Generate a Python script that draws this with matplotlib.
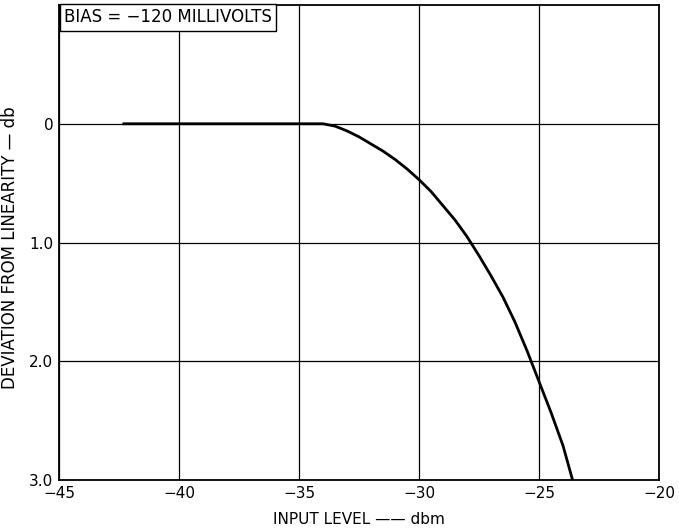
import matplotlib.pyplot as plt

# input level (dbm) vs deviation from linearity (db)
input_dbm = [-42.3, -34.0, -33.5, -33.0, -32.5, -32.0, -31.5, -31.0, -30.5, -30.0,
             -29.5, -29.0, -28.5, -28.0, -27.5, -27.0, -26.5, -26.0, -25.5, -25.0,
             -24.5, -24.0, -23.6]
deviation_db = [0.0, 0.0, 0.02, 0.06, 0.11, 0.17, 0.23, 0.30, 0.38, 0.47,
                0.57, 0.69, 0.81, 0.95, 1.11, 1.28, 1.46, 1.67, 1.91, 2.17,
                2.43, 2.71, 3.0]

x_ticks = [-45, -40, -35, -30, -25, -20]
y_ticks = [0, 1, 2, 3]
y_tick_labels = ['0', '1.0', '2.0', '3.0']

plt.rcParams['font.family'] = ['DejaVu Sans']

fig = plt.figure(figsize=(6.79, 5.28), dpi=100)
ax = fig.add_axes([0.0869, 0.0909, 0.8836, 0.8996])

ax.plot(input_dbm, deviation_db, color='black', linewidth=2.0, zorder=3)

ax.set_xlim(-45, -20)
ax.set_ylim(3, -1)
ax.set_xticks(x_ticks)
ax.set_yticks(y_ticks)
ax.set_yticklabels(y_tick_labels)
ax.tick_params(length=0, labelsize=11, pad=4)
ax.grid(True, color='black', linewidth=0.9)
for s in ax.spines.values():
    s.set_linewidth(1.3)

ax.set_xlabel('INPUT LEVEL \u2014\u2014 dbm', fontsize=11, labelpad=8)
ax.set_ylabel('DEVIATION FROM LINEARITY \u2014 db', fontsize=12)
ax.yaxis.set_label_coords(-0.066, 0.49)

ax.text(0.008, 0.993, 'BIAS = \u2212120 MILLIVOLTS', transform=ax.transAxes,
        ha='left', va='top', fontsize=12,
        bbox=dict(boxstyle='square,pad=0.25', facecolor='white', edgecolor='black', linewidth=1.0),
        zorder=5)

fig.savefig('out.png', dpi=100)
